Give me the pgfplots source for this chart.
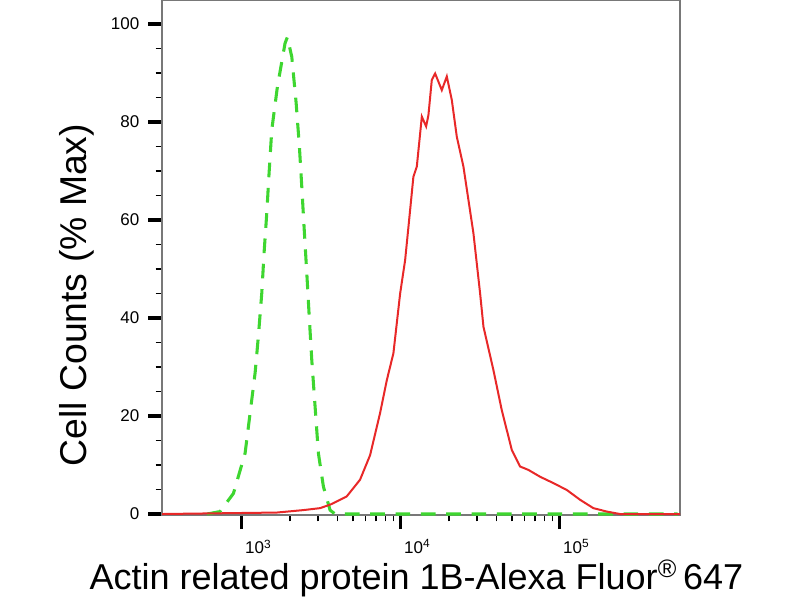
\documentclass[border=0pt]{standalone}
\usepackage{fontspec}
\setmainfont{Liberation Sans}
\usepackage{pgfplots}
\pgfplotsset{compat=1.18}

\definecolor{histred}{RGB}{232,40,40}
\definecolor{histgreen}{RGB}{62,214,48}
\definecolor{framegray}{RGB}{120,120,120}

\begin{document}
\begin{tikzpicture}
\begin{axis}[
    scale only axis,
    width=388.5pt, height=386.25pt,
    xmode=log,
    xmin=315, xmax=5.7e5,
    ymin=-0.2, ymax=104.9,
    axis line style={framegray, line width=0.8pt},
    tick align=outside,
    tick pos=left,
    major tick length=10.5pt,
    minor tick length=4.8pt,
    major tick style={black, line width=2.3pt},
    minor tick style={black, line width=1.3pt},
    ytick={0,20,40,60,80,100},
    minor y tick num=3,
    xtick={1000,10000,100000},
    xticklabels={10\textsuperscript{3},10\textsuperscript{4},10\textsuperscript{5}},
    ticklabel style={font=\fontsize{12.75}{14}\selectfont},
    /pgf/number format/assume math mode=true,
    xticklabel style={anchor=north west, xshift=-1pt, yshift=-4.5pt},
    yticklabel style={xshift=-3pt},
    xlabel={Actin related protein 1B-Alexa Fluor\textsuperscript{\textregistered}\,647},
    ylabel={Cell Counts (\% Max)},
    xlabel style={at={(axis description cs:0.491,-0.1456)}, anchor=base,
      font=\fontsize{27}{30}\selectfont},
    ylabel style={at={(axis description cs:-0.1467,0.427)}, anchor=base,
      font=\fontsize{28}{31}\selectfont},
  ]
  \addplot[histgreen, line width=2.3pt, dash pattern=on 11pt off 8pt]
    coordinates {
      (605,0) (730,0.5) (886,4.2) (1049,12.4) (1128,20.6) (1213,28.8)
      (1271,36.2) (1336,45.1) (1381,53.3) (1436,61.4) (1485,69.6)
      (1544,78.4) (1675,87.2) (1872,96.1) (1935,97.3) (2063,93.3)
      (2197,83.9) (2303,75.0) (2384,66.8) (2464,58.6) (2563,49.2)
      (2663,39.6) (2756,31.4) (2891,21.9) (3033,12.4) (3261,5.6)
      (3591,0.8) (3861,0) (5.5e5,0)
    };
  \addplot[histred, line width=1.5pt]
    coordinates {
      (315,0) (1660,0.3) (2438,0.8) (3105,1.2) (3591,1.9) (4150,2.9)
      (4572,3.6) (5543,7.0) (6410,12.0) (7409,20.6) (8166,27.3)
      (8985,32.8) (9905,45.0) (10647,51.8) (11443,62.0) (12000,68.8)
      (12610,70.9) (13560,81.1) (14430,79.1) (14920,81.4) (15670,88.6)
      (16440,89.9) (18110,86.5) (19470,89.3) (20930,84.5) (22500,77.0)
      (24770,70.9) (28630,57.3) (31540,45.0) (33110,38.2) (38230,29.4)
      (43150,21.2) (49880,13.1) (56250,9.7) (63480,9.0) (75220,7.6)
      (91270,6.3) (110700,4.9) (134200,2.9) (162500,1.2) (197600,0.5)
      (239300,0) (5.7e5,0)
    };
\end{axis}
\pgfresetboundingbox
\useasboundingbox (-121.5pt,-63.75pt) rectangle (478.5pt,386.25pt);
\end{tikzpicture}
\end{document}
